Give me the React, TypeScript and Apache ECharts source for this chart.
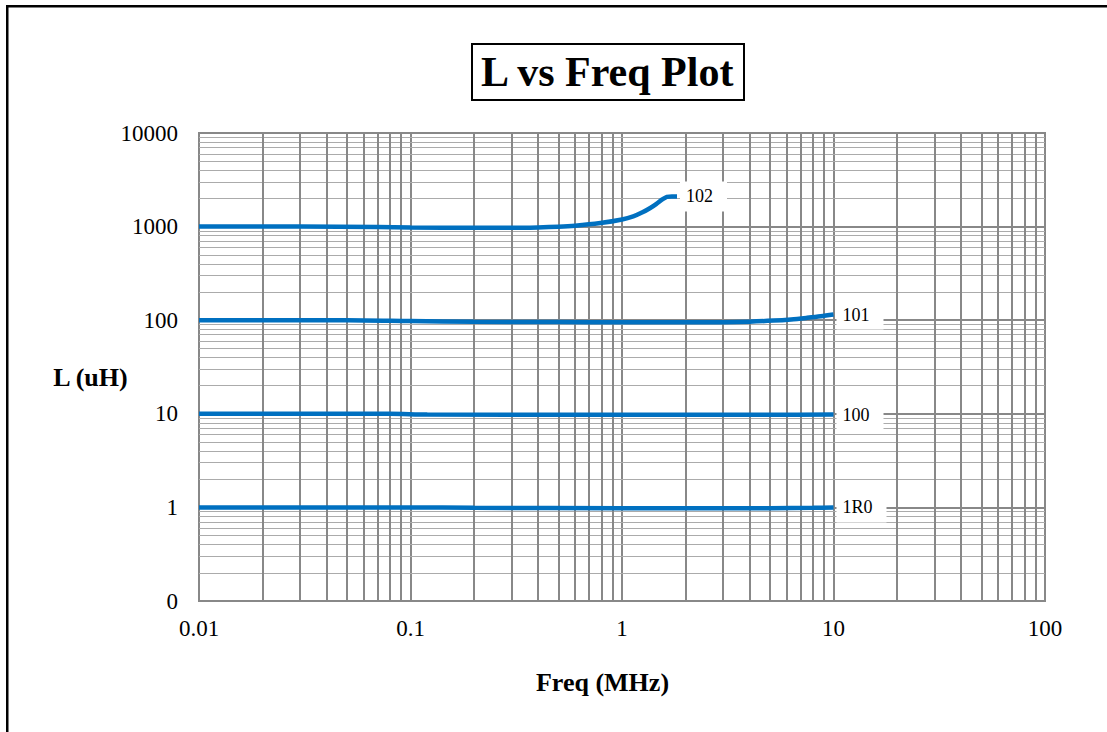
import React, { useEffect, useRef } from "react";
import * as echarts from "echarts";

// ---- data ----
const seriesNames = ["102", "101", "100", "1R0"];
const s102: [number, number][] = [
  [0.01, 1000], [0.03, 1000], [0.07, 990], [0.1, 980], [0.2, 972], [0.3, 972],
  [0.4, 980], [0.5, 995], [0.6, 1020], [0.79, 1090], [1.0, 1190], [1.13, 1285],
  [1.25, 1420], [1.36, 1580], [1.45, 1740], [1.55, 1950], [1.63, 2080], [1.72, 2100], [1.82, 2100],
];
const s101: [number, number][] = [
  [0.01, 100], [0.05, 100], [0.1, 98], [0.2, 96], [0.5, 95.5], [1, 95], [2, 95],
  [3, 95.3], [4, 96.5], [5.2, 99], [6.3, 102], [7.5, 106], [8.7, 110], [10, 115],
];
const s100: [number, number][] = [
  [0.01, 10], [0.08, 10], [0.12, 9.8], [1, 9.75], [5, 9.75], [10, 9.8],
];
const s1R0: [number, number][] = [
  [0.01, 1], [0.1, 1], [0.2, 0.99], [1, 0.98], [5, 0.98], [8, 0.99], [10, 1.0],
];
const allSeries = [s102, s101, s100, s1R0];

const xTickLabels = ["0.01", "0.1", "1", "10", "100"];
const yTickLabels = ["0", "1", "10", "100", "1000", "10000"];
const xDecades = [0.01, 0.1, 1, 10];
const yDecades = [0.1, 1, 10, 100, 1000];
const minorMultipliers = [2, 3, 4, 5, 6, 7, 8, 9];

const FONT = "'Liberation Serif', 'Times New Roman', serif";
const GRID = "#888888";
const BLUE = "#0070C0";

const xMinor: number[] = [];
xDecades.forEach((d) => minorMultipliers.forEach((m) => xMinor.push(+(d * m).toPrecision(6))));
const yMinor: number[] = [];
yDecades.forEach((d) => minorMultipliers.forEach((m) => yMinor.push(+(d * m).toPrecision(6))));

export default function App() {
  const ref = useRef<HTMLDivElement>(null);
  useEffect(() => {
    if (!ref.current) return;
    const chart = echarts.init(ref.current, null, { renderer: "svg" });
    const markCommon = {
      silent: true,
      symbol: ["none", "none"],
      label: { show: false },
      emphasis: { disabled: true },
    };
    const option: any = {
      animation: false,
      backgroundColor: "#ffffff",
      title: {
        text: "L vs Freq Plot",
        left: 472,
        top: 44,
        padding: [4, 9, 4, 9],
        borderColor: "#000",
        borderWidth: 2,
        textStyle: { fontFamily: FONT, fontWeight: "bold", fontSize: 42, color: "#000", lineHeight: 48 },
      },
      grid: { left: 199, top: 133, width: 846, height: 468, show: true, borderColor: GRID, borderWidth: 2 },
      xAxis: {
        type: "log",
        logBase: 10,
        min: 0.01,
        max: 100,
        axisLine: { show: true, lineStyle: { color: GRID, width: 2 } },
        axisTick: { show: false },
        splitLine: { show: true, lineStyle: { color: GRID, width: 2 } },
        axisLabel: {
          margin: 16,
          fontFamily: FONT,
          fontSize: 23,
          color: "#000",
          formatter: (v: number) => xTickLabels[Math.round(Math.log10(v)) + 2] ?? "",
        },
      },
      yAxis: {
        type: "log",
        logBase: 10,
        min: 0.1,
        max: 10000,
        axisLine: { show: true, lineStyle: { color: GRID, width: 2 } },
        axisTick: { show: false },
        splitLine: { show: true, lineStyle: { color: GRID, width: 2 } },
        axisLabel: {
          margin: 21,
          fontFamily: FONT,
          fontSize: 23,
          color: "#000",
          formatter: (v: number) => yTickLabels[Math.round(Math.log10(v)) + 1] ?? "",
        },
      },
      graphic: [
        {
          type: "line",
          shape: { x1: 7.25, y1: 6.25, x2: 7.25, y2: 740 },
          style: { stroke: "#000", lineWidth: 2.5 },
          silent: true,
        },
        {
          type: "line",
          shape: { x1: 6, y1: 6.25, x2: 1107, y2: 6.25 },
          style: { stroke: "#000", lineWidth: 2.5 },
          silent: true,
        },
        {
          type: "text",
          x: 90.5,
          y: 377,
          style: {
            text: "L (uH)",
            font: `bold 26px ${FONT}`,
            fill: "#000",
            align: "center",
            verticalAlign: "middle",
          },
        },
        {
          type: "text",
          x: 602.5,
          y: 682,
          style: {
            text: "Freq (MHz)",
            font: `bold 26px ${FONT}`,
            fill: "#000",
            align: "center",
            verticalAlign: "middle",
          },
        },
      ],
      series: [
        {
          type: "line",
          name: "hminor",
          data: [],
          z: 1,
          markLine: {
            ...markCommon,
            lineStyle: { color: "#ababab", width: 1, type: "solid" },
            data: yMinor.map((v) => ({ yAxis: v })),
          },
        },
        {
          type: "line",
          name: "vminor",
          data: [],
          z: 2,
          markLine: {
            ...markCommon,
            lineStyle: { color: GRID, width: 2, type: "solid" },
            data: xMinor.map((v) => ({ xAxis: v })),
          },
        },
        ...allSeries.map((d, i) => ({
          type: "line",
          name: seriesNames[i],
          data: d,
          z: 5,
          smooth: 0.3,
          symbol: "none",
          lineStyle: { color: BLUE, width: 4.5 },
          endLabel: {
            show: true,
            formatter: seriesNames[i],
            distance: 3,
            fontFamily: FONT,
            fontSize: 18,
            color: "#000",
            backgroundColor: "#fff",
            padding: [6, 14, 6, 6],
          },
        })),
      ],
    };
    chart.setOption(option);
    return () => chart.dispose();
  }, []);
  return (
    <div
      ref={ref}
      style={{ position: "fixed", left: 0, top: 0, width: 1107, height: 732, background: "#fff" }}
    />
  );
}
